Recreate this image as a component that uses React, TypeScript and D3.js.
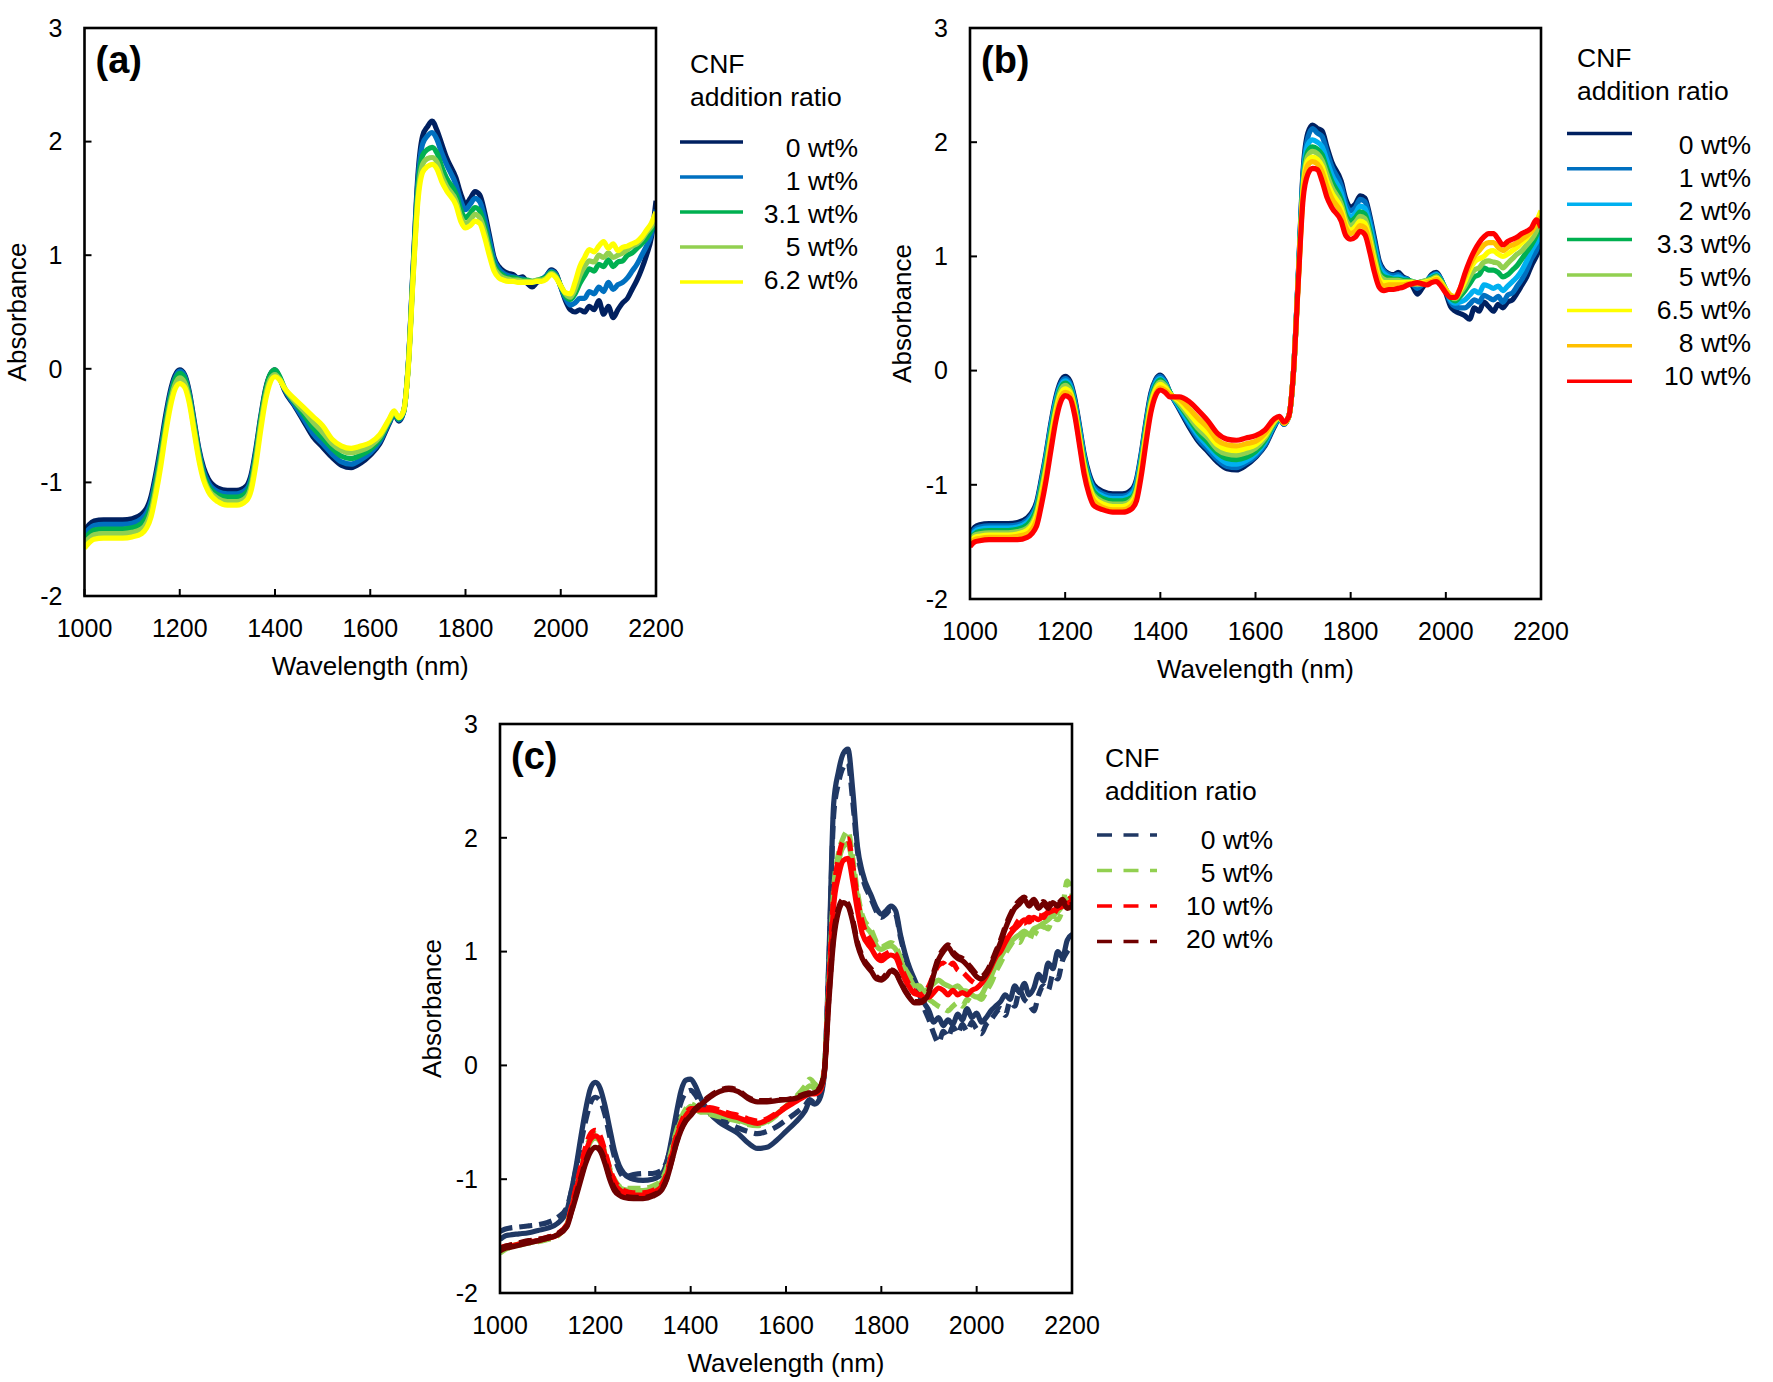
import React from 'react';
import * as d3 from 'd3';

// Shared wavelength grid (nm)
const wavelengths = [
  1000, 1010, 1020, 1040, 1060, 1080, 1100, 1120,
  1140, 1150, 1160, 1170, 1180, 1190, 1200, 1210, 1220, 1230, 1240, 1250, 1260,
  1280, 1300, 1320, 1340, 1350, 1360, 1370, 1380, 1390, 1400, 1410, 1420,
  1440, 1460, 1480, 1500, 1520, 1540, 1560, 1580, 1600, 1620, 1640,
  1650, 1660, 1670, 1680, 1690, 1700, 1710, 1720, 1730, 1740, 1750, 1760,
  1780, 1790, 1800, 1810, 1820, 1830, 1840, 1850, 1860, 1870,
  1880, 1890, 1900, 1910, 1920, 1930, 1940, 1950, 1960, 1970, 1980, 1990, 2000, 2010, 2020, 2030, 2040,
  2050, 2060, 2070, 2080, 2090, 2100, 2110, 2120, 2130, 2140, 2150, 2160, 2170, 2180, 2190, 2200,
];

const xTicks = [1000, 1200, 1400, 1600, 1800, 2000, 2200];
const yTicks = [-2, -1, 0, 1, 2, 3];

// ---------- Panel (a) ----------
const aLabels = ['0 wt%', '1 wt%', '3.1 wt%', '5 wt%', '6.2 wt%'];
const a0 = [
  -1.43, -1.37, -1.34, -1.33, -1.33, -1.33, -1.32, -1.28,
  -1.12, -0.92, -0.68, -0.42, -0.20, -0.06, -0.01, -0.05, -0.20, -0.45, -0.70, -0.87, -0.97,
  -1.05, -1.07, -1.07, -1.03, -0.93, -0.70, -0.42, -0.18, -0.05, -0.01, -0.08, -0.19,
  -0.32, -0.46, -0.60, -0.69, -0.78, -0.85, -0.87, -0.83, -0.76, -0.66, -0.48,
  -0.40, -0.46, -0.38, 0.05, 0.90, 1.70, 2.05, 2.13, 2.18, 2.10, 1.98, 1.86,
  1.68, 1.54, 1.45, 1.50, 1.56, 1.53, 1.38, 1.18, 0.98, 0.90,
  0.86, 0.84, 0.83, 0.80, 0.81, 0.75, 0.72, 0.76, 0.78, 0.82, 0.87, 0.84, 0.72, 0.60, 0.52, 0.50, 0.52,
  0.50, 0.55, 0.52, 0.60, 0.48, 0.55, 0.45, 0.52, 0.58, 0.62, 0.70, 0.78, 0.88, 1.00, 1.15, 1.48,
];
const a1 = [
  -1.46, -1.41, -1.38, -1.37, -1.37, -1.37, -1.36, -1.32,
  -1.16, -0.96, -0.72, -0.46, -0.23, -0.08, -0.02, -0.06, -0.22, -0.47, -0.72, -0.90, -1.00,
  -1.08, -1.10, -1.10, -1.06, -0.96, -0.73, -0.44, -0.20, -0.06, -0.02, -0.08, -0.18,
  -0.31, -0.44, -0.57, -0.66, -0.75, -0.82, -0.84, -0.80, -0.74, -0.64, -0.47,
  -0.40, -0.45, -0.38, 0.05, 0.88, 1.65, 1.98, 2.05, 2.08, 2.02, 1.90, 1.80,
  1.62, 1.48, 1.40, 1.45, 1.50, 1.47, 1.33, 1.14, 0.96, 0.88,
  0.84, 0.82, 0.81, 0.80, 0.79, 0.77, 0.76, 0.77, 0.79, 0.82, 0.86, 0.83, 0.72, 0.62, 0.56, 0.58, 0.62,
  0.62, 0.68, 0.66, 0.72, 0.68, 0.76, 0.70, 0.74, 0.76, 0.80, 0.86, 0.92, 1.00, 1.08, 1.18, 1.40,
];
const a3 = [
  -1.50, -1.45, -1.42, -1.41, -1.41, -1.41, -1.40, -1.36,
  -1.20, -1.00, -0.76, -0.49, -0.26, -0.10, -0.04, -0.08, -0.24, -0.49, -0.74, -0.93, -1.03,
  -1.11, -1.13, -1.13, -1.09, -0.99, -0.75, -0.45, -0.20, -0.05, -0.01, -0.07, -0.17,
  -0.29, -0.40, -0.52, -0.61, -0.70, -0.77, -0.79, -0.76, -0.71, -0.62, -0.46,
  -0.39, -0.44, -0.38, 0.04, 0.85, 1.58, 1.88, 1.93, 1.95, 1.90, 1.78, 1.68,
  1.54, 1.40, 1.33, 1.37, 1.42, 1.39, 1.26, 1.08, 0.92, 0.85,
  0.82, 0.80, 0.80, 0.79, 0.78, 0.78, 0.77, 0.78, 0.79, 0.81, 0.85, 0.82, 0.73, 0.64, 0.61, 0.66, 0.75,
  0.82, 0.88, 0.86, 0.92, 0.90, 0.96, 0.90, 0.94, 0.95, 1.00, 1.02, 1.06, 1.10, 1.15, 1.22, 1.30,
];
const a5 = [
  -1.54, -1.49, -1.46, -1.45, -1.45, -1.45, -1.44, -1.41,
  -1.25, -1.05, -0.81, -0.54, -0.30, -0.14, -0.08, -0.12, -0.27, -0.52, -0.77, -0.96, -1.06,
  -1.14, -1.17, -1.17, -1.13, -1.03, -0.79, -0.49, -0.24, -0.09, -0.05, -0.09, -0.17,
  -0.28, -0.37, -0.47, -0.56, -0.66, -0.72, -0.74, -0.72, -0.68, -0.60, -0.45,
  -0.38, -0.43, -0.37, 0.03, 0.82, 1.52, 1.80, 1.85, 1.86, 1.82, 1.70, 1.61,
  1.48, 1.34, 1.28, 1.31, 1.36, 1.33, 1.21, 1.04, 0.89, 0.83,
  0.80, 0.79, 0.78, 0.78, 0.77, 0.77, 0.77, 0.78, 0.78, 0.80, 0.84, 0.81, 0.73, 0.66, 0.63, 0.70, 0.82,
  0.90, 0.95, 0.94, 1.00, 0.98, 1.02, 0.98, 1.00, 1.02, 1.05, 1.08, 1.10, 1.14, 1.20, 1.25, 1.32,
];
const a6 = [
  -1.58, -1.53, -1.50, -1.49, -1.49, -1.49, -1.48, -1.45,
  -1.30, -1.10, -0.86, -0.58, -0.34, -0.18, -0.13, -0.16, -0.30, -0.55, -0.80, -0.98, -1.08,
  -1.17, -1.20, -1.20, -1.16, -1.07, -0.84, -0.54, -0.28, -0.12, -0.07, -0.10, -0.17,
  -0.26, -0.34, -0.42, -0.50, -0.62, -0.68, -0.70, -0.68, -0.65, -0.58, -0.44,
  -0.37, -0.43, -0.37, 0.02, 0.80, 1.47, 1.73, 1.78, 1.80, 1.76, 1.65, 1.57,
  1.44, 1.30, 1.24, 1.26, 1.30, 1.28, 1.16, 1.00, 0.86, 0.80,
  0.78, 0.77, 0.77, 0.76, 0.76, 0.76, 0.76, 0.77, 0.77, 0.79, 0.83, 0.80, 0.73, 0.67, 0.66, 0.76, 0.90,
  0.98, 1.05, 1.03, 1.08, 1.12, 1.06, 1.10, 1.04, 1.07, 1.08, 1.10, 1.12, 1.16, 1.22, 1.28, 1.38,
];

// ---------- Panel (b) ----------
const bLabels = ['0 wt%', '1 wt%', '2 wt%', '3.3 wt%', '5 wt%', '6.5 wt%', '8 wt%', '10 wt%'];
const b0 = [
  -1.43, -1.37, -1.35, -1.34, -1.34, -1.34, -1.33, -1.29,
  -1.15, -0.95, -0.72, -0.46, -0.24, -0.10, -0.05, -0.09, -0.24, -0.48, -0.73, -0.90, -1.00,
  -1.06, -1.08, -1.08, -1.04, -0.95, -0.72, -0.44, -0.20, -0.08, -0.04, -0.09, -0.19,
  -0.34, -0.49, -0.62, -0.71, -0.80, -0.86, -0.87, -0.83, -0.76, -0.66, -0.49,
  -0.42, -0.47, -0.40, 0.00, 0.85, 1.75, 2.08, 2.15, 2.12, 2.10, 1.96, 1.83,
  1.66, 1.50, 1.43, 1.46, 1.53, 1.51, 1.36, 1.16, 0.96, 0.88,
  0.85, 0.84, 0.86, 0.82, 0.80, 0.74, 0.67, 0.72, 0.78, 0.84, 0.86, 0.80, 0.68, 0.56, 0.52, 0.50, 0.48,
  0.45, 0.55, 0.52, 0.60, 0.56, 0.52, 0.58, 0.55, 0.60, 0.62, 0.68, 0.75, 0.82, 0.92, 1.00, 1.10,
];
const b1 = [
  -1.45, -1.39, -1.37, -1.36, -1.36, -1.36, -1.35, -1.31,
  -1.17, -0.97, -0.74, -0.48, -0.26, -0.12, -0.07, -0.11, -0.26, -0.50, -0.75, -0.92, -1.02,
  -1.08, -1.10, -1.10, -1.06, -0.97, -0.74, -0.46, -0.22, -0.09, -0.05, -0.10, -0.19,
  -0.33, -0.47, -0.60, -0.69, -0.78, -0.84, -0.85, -0.81, -0.75, -0.65, -0.48,
  -0.42, -0.47, -0.40, 0.00, 0.84, 1.72, 2.04, 2.12, 2.08, 2.05, 1.92, 1.79,
  1.62, 1.46, 1.40, 1.43, 1.50, 1.48, 1.33, 1.13, 0.94, 0.87,
  0.84, 0.83, 0.84, 0.81, 0.80, 0.76, 0.72, 0.75, 0.79, 0.83, 0.85, 0.80, 0.70, 0.60, 0.56, 0.55, 0.55,
  0.58, 0.62, 0.60, 0.66, 0.64, 0.62, 0.65, 0.60, 0.66, 0.68, 0.74, 0.80, 0.88, 0.98, 1.05, 1.15,
];
const b2 = [
  -1.46, -1.41, -1.39, -1.38, -1.38, -1.38, -1.37, -1.33,
  -1.19, -0.99, -0.76, -0.50, -0.28, -0.14, -0.09, -0.13, -0.28, -0.52, -0.77, -0.94, -1.04,
  -1.10, -1.12, -1.12, -1.08, -0.99, -0.76, -0.48, -0.24, -0.11, -0.07, -0.11, -0.19,
  -0.32, -0.45, -0.57, -0.66, -0.75, -0.81, -0.82, -0.79, -0.73, -0.63, -0.47,
  -0.42, -0.46, -0.40, 0.00, 0.83, 1.68, 1.98, 2.02, 2.00, 1.96, 1.84, 1.72,
  1.56, 1.41, 1.35, 1.38, 1.44, 1.42, 1.28, 1.09, 0.91, 0.85,
  0.82, 0.81, 0.82, 0.80, 0.79, 0.77, 0.75, 0.77, 0.79, 0.82, 0.84, 0.79, 0.71, 0.62, 0.59, 0.60, 0.62,
  0.66, 0.70, 0.68, 0.75, 0.74, 0.72, 0.74, 0.70, 0.74, 0.78, 0.82, 0.88, 0.96, 1.05, 1.12, 1.20,
];
const b3 = [
  -1.48, -1.43, -1.41, -1.40, -1.40, -1.40, -1.39, -1.35,
  -1.21, -1.01, -0.79, -0.53, -0.31, -0.16, -0.11, -0.15, -0.30, -0.55, -0.79, -0.96, -1.06,
  -1.12, -1.14, -1.14, -1.11, -1.02, -0.79, -0.50, -0.26, -0.13, -0.08, -0.12, -0.19,
  -0.30, -0.42, -0.54, -0.63, -0.72, -0.77, -0.78, -0.76, -0.71, -0.61, -0.46,
  -0.42, -0.46, -0.40, 0.00, 0.82, 1.64, 1.92, 1.96, 1.94, 1.89, 1.77, 1.66,
  1.50, 1.36, 1.31, 1.34, 1.39, 1.37, 1.23, 1.04, 0.87, 0.82,
  0.81, 0.80, 0.80, 0.79, 0.79, 0.78, 0.77, 0.78, 0.79, 0.81, 0.83, 0.79, 0.71, 0.64, 0.61, 0.65, 0.70,
  0.76, 0.82, 0.84, 0.90, 0.88, 0.88, 0.86, 0.82, 0.84, 0.88, 0.92, 0.98, 1.04, 1.10, 1.18, 1.30,
];
const b5 = [
  -1.49, -1.44, -1.43, -1.42, -1.42, -1.42, -1.41, -1.38,
  -1.24, -1.05, -0.83, -0.57, -0.34, -0.18, -0.13, -0.17, -0.32, -0.57, -0.82, -0.99, -1.09,
  -1.15, -1.17, -1.17, -1.13, -1.04, -0.81, -0.53, -0.28, -0.15, -0.10, -0.13, -0.20,
  -0.29, -0.40, -0.51, -0.59, -0.69, -0.73, -0.74, -0.72, -0.68, -0.59, -0.45,
  -0.41, -0.46, -0.40, 0.00, 0.81, 1.61, 1.88, 1.92, 1.90, 1.84, 1.72, 1.61,
  1.46, 1.32, 1.27, 1.30, 1.35, 1.33, 1.19, 1.00, 0.84, 0.80,
  0.79, 0.79, 0.79, 0.78, 0.78, 0.78, 0.77, 0.78, 0.79, 0.80, 0.82, 0.78, 0.71, 0.65, 0.63, 0.68, 0.74,
  0.82, 0.88, 0.90, 0.95, 0.96, 0.95, 0.94, 0.90, 0.94, 0.98, 1.02, 1.05, 1.10, 1.15, 1.22, 1.35,
];
const b6 = [
  -1.51, -1.46, -1.45, -1.44, -1.44, -1.44, -1.43, -1.40,
  -1.27, -1.09, -0.87, -0.61, -0.37, -0.21, -0.16, -0.19, -0.34, -0.59, -0.84, -1.01, -1.11,
  -1.17, -1.19, -1.19, -1.15, -1.07, -0.84, -0.56, -0.31, -0.17, -0.12, -0.15, -0.20,
  -0.27, -0.37, -0.47, -0.55, -0.65, -0.69, -0.70, -0.68, -0.65, -0.57, -0.44,
  -0.41, -0.46, -0.40, 0.00, 0.80, 1.58, 1.84, 1.87, 1.85, 1.79, 1.66, 1.56,
  1.42, 1.28, 1.23, 1.26, 1.31, 1.29, 1.15, 0.96, 0.81, 0.77,
  0.77, 0.77, 0.77, 0.77, 0.77, 0.77, 0.77, 0.77, 0.78, 0.79, 0.81, 0.77, 0.71, 0.66, 0.64, 0.70, 0.78,
  0.88, 0.95, 0.98, 1.00, 1.04, 1.05, 1.02, 1.00, 1.02, 1.05, 1.08, 1.12, 1.16, 1.22, 1.30, 1.40,
];
const b8 = [
  -1.52, -1.48, -1.47, -1.46, -1.46, -1.46, -1.45, -1.43,
  -1.31, -1.13, -0.91, -0.65, -0.41, -0.24, -0.19, -0.21, -0.36, -0.62, -0.87, -1.04, -1.14,
  -1.20, -1.22, -1.22, -1.18, -1.10, -0.88, -0.59, -0.34, -0.20, -0.15, -0.17, -0.21,
  -0.25, -0.33, -0.42, -0.50, -0.61, -0.65, -0.66, -0.64, -0.62, -0.55, -0.43,
  -0.41, -0.46, -0.40, 0.00, 0.79, 1.55, 1.80, 1.83, 1.81, 1.74, 1.61, 1.51,
  1.38, 1.25, 1.20, 1.22, 1.27, 1.25, 1.11, 0.92, 0.78, 0.74,
  0.75, 0.75, 0.75, 0.75, 0.76, 0.76, 0.76, 0.76, 0.77, 0.78, 0.80, 0.76, 0.70, 0.66, 0.65, 0.72, 0.82,
  0.92, 1.00, 1.05, 1.10, 1.12, 1.12, 1.08, 1.05, 1.08, 1.10, 1.12, 1.15, 1.18, 1.22, 1.28, 1.35,
];
const b10 = [
  -1.54, -1.50, -1.49, -1.48, -1.48, -1.48, -1.48, -1.46,
  -1.36, -1.18, -0.96, -0.70, -0.45, -0.28, -0.22, -0.24, -0.39, -0.65, -0.91, -1.08, -1.18,
  -1.22, -1.24, -1.24, -1.21, -1.14, -0.92, -0.63, -0.37, -0.22, -0.17, -0.19, -0.23,
  -0.23, -0.27, -0.35, -0.44, -0.55, -0.60, -0.61, -0.59, -0.57, -0.52, -0.42,
  -0.40, -0.45, -0.40, 0.00, 0.78, 1.50, 1.72, 1.77, 1.76, 1.66, 1.52, 1.43,
  1.31, 1.18, 1.15, 1.17, 1.22, 1.19, 1.04, 0.86, 0.73, 0.70,
  0.71, 0.71, 0.72, 0.73, 0.75, 0.76, 0.77, 0.76, 0.75, 0.77, 0.78, 0.74, 0.68, 0.64, 0.64, 0.72, 0.85,
  0.96, 1.05, 1.12, 1.17, 1.20, 1.20, 1.15, 1.10, 1.13, 1.15, 1.17, 1.20, 1.22, 1.25, 1.32, 1.25,
];

// ---------- Panel (c) ----------
const cLabels = ['0 wt%', '5 wt%', '10 wt%', '20 wt%'];
const c0d = [
  -1.46, -1.44, -1.43, -1.42, -1.41, -1.40, -1.38, -1.34,
  -1.25, -1.10, -0.90, -0.68, -0.48, -0.33, -0.28, -0.31, -0.43, -0.62, -0.80, -0.92, -0.98,
  -0.96, -0.95, -0.95, -0.92, -0.84, -0.68, -0.48, -0.32, -0.24, -0.22, -0.26, -0.33,
  -0.40, -0.46, -0.51, -0.55, -0.58, -0.60, -0.58, -0.54, -0.48, -0.42, -0.35,
  -0.30, -0.33, -0.28, -0.08, 0.90, 2.20, 2.48, 2.62, 2.66, 2.32, 1.88, 1.66,
  1.45, 1.35, 1.30, 1.33, 1.37, 1.33, 1.13, 0.96, 0.83, 0.73,
  0.62, 0.50, 0.40, 0.28, 0.20, 0.30, 0.25, 0.34, 0.28, 0.36, 0.30, 0.38, 0.32, 0.28, 0.36, 0.40, 0.46,
  0.50, 0.44, 0.56, 0.52, 0.66, 0.58, 0.54, 0.48, 0.62, 0.70, 0.66, 0.80, 0.76, 0.92, 1.00, 1.05,
];
const c0s = [
  -1.53, -1.50, -1.49, -1.48, -1.47, -1.45, -1.43, -1.39,
  -1.28, -1.10, -0.88, -0.62, -0.38, -0.20, -0.15, -0.20, -0.35, -0.55, -0.75, -0.88, -0.95,
  -1.00, -1.01, -1.00, -0.95, -0.85, -0.65, -0.42, -0.22, -0.13, -0.12, -0.18, -0.28,
  -0.42, -0.50, -0.55, -0.60, -0.68, -0.73, -0.72, -0.66, -0.58, -0.50, -0.40,
  -0.32, -0.34, -0.30, -0.10, 0.95, 2.30, 2.58, 2.74, 2.78, 2.42, 1.92, 1.70,
  1.48, 1.38, 1.33, 1.36, 1.40, 1.36, 1.15, 0.98, 0.85, 0.75,
  0.65, 0.55, 0.48, 0.38, 0.42, 0.35, 0.40, 0.36, 0.45, 0.40, 0.50, 0.42, 0.46, 0.38, 0.42, 0.48, 0.52,
  0.56, 0.62, 0.58, 0.70, 0.64, 0.72, 0.62, 0.68, 0.80, 0.74, 0.90, 0.85, 1.00, 0.95, 1.10, 1.15,
];
const c5d = [
  -1.65, -1.62, -1.60, -1.58, -1.56, -1.55, -1.53, -1.50,
  -1.40, -1.25, -1.08, -0.90, -0.74, -0.63, -0.60, -0.64, -0.76, -0.90, -1.00, -1.06, -1.08,
  -1.08, -1.08, -1.06, -1.00, -0.90, -0.74, -0.58, -0.46, -0.38, -0.34, -0.36, -0.40,
  -0.43, -0.45, -0.47, -0.49, -0.52, -0.53, -0.50, -0.44, -0.36, -0.28, -0.18,
  -0.12, -0.16, -0.20, -0.04, 0.72, 1.55, 1.86, 2.00, 2.06, 1.82, 1.52, 1.32,
  1.18, 1.08, 1.04, 1.06, 1.08, 1.05, 0.95, 0.85, 0.78, 0.72,
  0.68, 0.62, 0.58, 0.55, 0.52, 0.50, 0.48, 0.52, 0.55, 0.52, 0.58, 0.56, 0.60, 0.58, 0.65, 0.72, 0.82,
  0.90, 0.98, 1.05, 1.10, 1.08, 1.15, 1.10, 1.18, 1.15, 1.22, 1.20, 1.30, 1.28, 1.38, 1.62, 1.50,
];
const c5s = [
  -1.62, -1.60, -1.59, -1.57, -1.56, -1.54, -1.52, -1.49,
  -1.40, -1.26, -1.10, -0.93, -0.78, -0.67, -0.64, -0.67, -0.78, -0.92, -1.02, -1.07, -1.09,
  -1.10, -1.10, -1.08, -1.02, -0.93, -0.77, -0.60, -0.48, -0.40, -0.36, -0.38, -0.41,
  -0.41, -0.44, -0.46, -0.48, -0.51, -0.52, -0.49, -0.43, -0.36, -0.29, -0.22,
  -0.18, -0.20, -0.22, -0.06, 0.68, 1.48, 1.78, 1.92, 1.95, 1.75, 1.48, 1.28,
  1.15, 1.05, 1.02, 1.04, 1.05, 1.02, 0.93, 0.83, 0.76, 0.70,
  0.70, 0.65, 0.68, 0.72, 0.75, 0.72, 0.70, 0.68, 0.70, 0.66, 0.65, 0.62, 0.60, 0.62, 0.70, 0.78, 0.88,
  0.95, 1.02, 1.08, 1.12, 1.15, 1.18, 1.15, 1.20, 1.22, 1.25, 1.28, 1.32, 1.35, 1.40, 1.45, 1.48,
];
const c10d = [
  -1.60, -1.59, -1.58, -1.56, -1.55, -1.53, -1.51, -1.48,
  -1.40, -1.24, -1.06, -0.88, -0.71, -0.60, -0.57, -0.62, -0.75, -0.90, -1.01, -1.07, -1.10,
  -1.12, -1.12, -1.10, -1.04, -0.95, -0.78, -0.62, -0.50, -0.42, -0.38, -0.38, -0.39,
  -0.37, -0.39, -0.42, -0.44, -0.47, -0.49, -0.47, -0.42, -0.36, -0.31, -0.26,
  -0.24, -0.24, -0.22, -0.06, 0.70, 1.50, 1.82, 1.97, 1.99, 1.76, 1.46, 1.26,
  1.08, 1.00, 0.96, 0.98, 1.00, 0.98, 0.88, 0.78, 0.70, 0.65,
  0.62, 0.64, 0.70, 0.80, 0.88, 0.90, 0.86, 0.90, 0.84, 0.82, 0.78, 0.74, 0.72, 0.75, 0.80, 0.88, 0.96,
  1.02, 1.10, 1.18, 1.22, 1.28, 1.25, 1.30, 1.28, 1.32, 1.30, 1.35, 1.33, 1.38, 1.40, 1.45, 1.48,
];
const c10s = [
  -1.62, -1.60, -1.59, -1.57, -1.55, -1.54, -1.52, -1.49,
  -1.41, -1.26, -1.09, -0.92, -0.76, -0.65, -0.62, -0.66, -0.78, -0.93, -1.04, -1.09, -1.12,
  -1.14, -1.14, -1.12, -1.06, -0.97, -0.80, -0.64, -0.52, -0.44, -0.40, -0.39, -0.39,
  -0.39, -0.41, -0.44, -0.46, -0.49, -0.51, -0.48, -0.43, -0.37, -0.32, -0.27,
  -0.25, -0.25, -0.23, -0.08, 0.65, 1.40, 1.66, 1.80, 1.82, 1.62, 1.36, 1.16,
  1.02, 0.95, 0.92, 0.95, 0.97, 0.95, 0.85, 0.75, 0.68, 0.63,
  0.62, 0.60, 0.60, 0.64, 0.68, 0.66, 0.62, 0.66, 0.62, 0.64, 0.62, 0.66, 0.68, 0.72, 0.78, 0.86, 0.95,
  1.00, 1.08, 1.15, 1.20, 1.24, 1.28, 1.26, 1.30, 1.28, 1.32, 1.34, 1.36, 1.38, 1.40, 1.42, 1.45,
];
const c20d = [
  -1.61, -1.59, -1.58, -1.56, -1.54, -1.53, -1.51, -1.48,
  -1.41, -1.28, -1.13, -0.98, -0.84, -0.74, -0.71, -0.74, -0.84, -0.98, -1.08, -1.13, -1.15,
  -1.16, -1.16, -1.14, -1.08, -0.99, -0.84, -0.68, -0.56, -0.48, -0.43, -0.38, -0.34,
  -0.27, -0.22, -0.20, -0.22, -0.28, -0.31, -0.31, -0.30, -0.30, -0.28, -0.25,
  -0.24, -0.23, -0.20, -0.06, 0.60, 1.15, 1.38, 1.46, 1.42, 1.28, 1.08, 0.96,
  0.84, 0.78, 0.76, 0.80, 0.84, 0.82, 0.74, 0.66, 0.60, 0.56,
  0.56, 0.58, 0.66, 0.82, 0.95, 1.02, 1.06, 1.00, 0.96, 0.94, 0.90, 0.85, 0.80, 0.78, 0.82, 0.90, 1.00,
  1.10, 1.22, 1.32, 1.40, 1.45, 1.48, 1.42, 1.46, 1.40, 1.44, 1.40, 1.45, 1.42, 1.46, 1.40, 1.42,
];
const c20s = [
  -1.63, -1.61, -1.60, -1.58, -1.56, -1.54, -1.52, -1.49,
  -1.42, -1.29, -1.15, -1.00, -0.86, -0.76, -0.72, -0.75, -0.86, -1.00, -1.10, -1.14, -1.16,
  -1.17, -1.17, -1.15, -1.09, -1.00, -0.85, -0.69, -0.57, -0.49, -0.44, -0.39, -0.35,
  -0.28, -0.23, -0.21, -0.23, -0.29, -0.32, -0.32, -0.31, -0.30, -0.29, -0.26,
  -0.25, -0.24, -0.21, -0.08, 0.56, 1.10, 1.35, 1.43, 1.40, 1.26, 1.06, 0.94,
  0.82, 0.76, 0.75, 0.78, 0.83, 0.81, 0.73, 0.65, 0.59, 0.55,
  0.55, 0.57, 0.64, 0.80, 0.93, 1.00, 1.04, 0.98, 0.94, 0.92, 0.88, 0.83, 0.78, 0.76, 0.80, 0.88, 0.98,
  1.08, 1.20, 1.30, 1.38, 1.42, 1.46, 1.40, 1.44, 1.38, 1.42, 1.38, 1.43, 1.40, 1.44, 1.38, 1.40,
];

const FONT = "'Liberation Sans', Arial, Helvetica, sans-serif";

type Series = { values: number[]; color: string; dashed?: boolean };
type Legend = {
  cnfX: number; cnfY: number; addY: number;
  lx1: number; lx2: number; ly0: number; ldy: number;
  tx: number; ty0: number; tdy: number;
  labels: string[]; colors: string[]; dashed?: boolean;
};

function Panel(props: {
  x0: number; x1: number; y0: number; y1: number;
  label: string; series: Series[]; legend: Legend; id: string;
}) {
  const { x0, x1, y0, y1, label, series, legend, id } = props;
  const xs = d3.scaleLinear().domain([1000, 2200]).range([x0, x1]);
  const ys = d3.scaleLinear().domain([-2, 3]).range([y1, y0]);
  const line = d3
    .line<number>()
    .defined((d) => d !== undefined && !isNaN(d))
    .x((_, i) => xs(wavelengths[i]))
    .y((d) => ys(d))
    .curve(d3.curveMonotoneX);
  return (
    <g>
      <defs>
        <clipPath id={`clip-${id}`}>
          <rect x={x0} y={y0} width={x1 - x0} height={y1 - y0} />
        </clipPath>
      </defs>
      <g clipPath={`url(#clip-${id})`}>
        {series.map((s, i) => (
          <path
            key={i}
            d={line(s.values.slice(0, wavelengths.length)) || ''}
            fill="none"
            stroke={s.color}
            strokeWidth={5.2}
            strokeLinejoin="round"
            strokeDasharray={s.dashed ? '13 7' : undefined}
          />
        ))}
      </g>
      {/* ticks inward */}
      {yTicks.map((t) => (
        <line key={`yt${t}`} x1={x0} x2={x0 + 7} y1={ys(t)} y2={ys(t)} stroke="#000" strokeWidth={2} />
      ))}
      {xTicks.map((t) => (
        <line key={`xt${t}`} x1={xs(t)} x2={xs(t)} y1={y1} y2={y1 - 7} stroke="#000" strokeWidth={2} />
      ))}
      <rect x={x0} y={y0} width={x1 - x0} height={y1 - y0} fill="none" stroke="#000" strokeWidth={2.6} />
      {yTicks.map((t) => (
        <text key={`yl${t}`} x={x0 - 22} y={ys(t)} dy="0.35em" textAnchor="end" fontSize={25} fontFamily={FONT}>
          {t}
        </text>
      ))}
      {xTicks.map((t) => (
        <text key={`xl${t}`} x={xs(t)} y={y1 + 32} dy="0.35em" textAnchor="middle" fontSize={25} fontFamily={FONT}>
          {t}
        </text>
      ))}
      <text x={(x0 + x1) / 2} y={y1 + 70} dy="0.35em" textAnchor="middle" fontSize={26} fontFamily={FONT}>
        Wavelength (nm)
      </text>
      <text
        transform={`translate(${x0 - 68},${(y0 + y1) / 2}) rotate(-90)`}
        dy="0.35em"
        textAnchor="middle"
        fontSize={26}
        fontFamily={FONT}
      >
        Absorbance
      </text>
      <text x={x0 + 11} y={y0 + 45} fontSize={38} fontWeight="bold" fontFamily={FONT}>
        {label}
      </text>
      {/* legend */}
      <text x={legend.cnfX} y={legend.cnfY} dy="0.35em" fontSize={26.5} fontFamily={FONT}>CNF</text>
      <text x={legend.cnfX} y={legend.addY} dy="0.35em" fontSize={26.5} fontFamily={FONT}>addition ratio</text>
      {legend.labels.map((lab, i) => (
        <g key={`lg${i}`}>
          <line
            x1={legend.lx1}
            x2={legend.lx2}
            y1={legend.ly0 + i * legend.ldy}
            y2={legend.ly0 + i * legend.ldy}
            stroke={legend.colors[i]}
            strokeWidth={3.5}
            strokeDasharray={legend.dashed ? '15 11.5' : undefined}
          />
          <text
            x={legend.tx}
            y={legend.ty0 + i * legend.tdy}
            dy="0.35em"
            textAnchor="end"
            fontSize={26.5}
            fontFamily={FONT}
          >
            {lab}
          </text>
        </g>
      ))}
    </g>
  );
}

const aColors = ['#002060', '#0070C0', '#00B050', '#92D050', '#FFFF00'];
const bColors = ['#002060', '#0070C0', '#00B0F0', '#00B050', '#92D050', '#FFFF00', '#FFC000', '#FF0000'];
const cColors = ['#203864', '#92D050', '#FF0000', '#700000'];

export default function App() {
  const aSeries: Series[] = [a0, a1, a3, a5, a6].map((v, i) => ({ values: v, color: aColors[i] }));
  const bSeries: Series[] = [b0, b1, b2, b3, b5, b6, b8, b10].map((v, i) => ({ values: v, color: bColors[i] }));
  const cSeries: Series[] = [
    { values: c0s, color: cColors[0] },
    { values: c0d, color: cColors[0], dashed: true },
    { values: c5s, color: cColors[1] },
    { values: c5d, color: cColors[1], dashed: true },
    { values: c10s, color: cColors[2] },
    { values: c10d, color: cColors[2], dashed: true },
    { values: c20s, color: cColors[3] },
    { values: c20d, color: cColors[3], dashed: true },
  ];
  return (
    <svg
      width={1773}
      height={1382}
      style={{ position: 'absolute', left: 0, top: 0, background: '#fff' }}
      xmlns="http://www.w3.org/2000/svg"
    >
      <rect x={0} y={0} width={1773} height={1382} fill="#fff" />
      <Panel
        id="a"
        x0={84.5}
        x1={656}
        y0={28}
        y1={596}
        label="(a)"
        series={aSeries}
        legend={{
          cnfX: 690, cnfY: 64, addY: 97,
          lx1: 680, lx2: 743, ly0: 142, ldy: 35,
          tx: 858, ty0: 148, tdy: 33,
          labels: aLabels, colors: aColors,
        }}
      />
      <Panel
        id="b"
        x0={970}
        x1={1541}
        y0={28}
        y1={599}
        label="(b)"
        series={bSeries}
        legend={{
          cnfX: 1577, cnfY: 58, addY: 91,
          lx1: 1567, lx2: 1632, ly0: 133.4, ldy: 35.4,
          tx: 1751, ty0: 144.5, tdy: 33.1,
          labels: bLabels, colors: bColors,
        }}
      />
      <Panel
        id="c"
        x0={500}
        x1={1072}
        y0={724}
        y1={1293}
        label="(c)"
        series={cSeries}
        legend={{
          cnfX: 1105, cnfY: 758, addY: 791,
          lx1: 1097, lx2: 1157, ly0: 835, ldy: 35.5,
          tx: 1273, ty0: 840, tdy: 32.8,
          labels: cLabels, colors: cColors, dashed: true,
        }}
      />
    </svg>
  );
}
